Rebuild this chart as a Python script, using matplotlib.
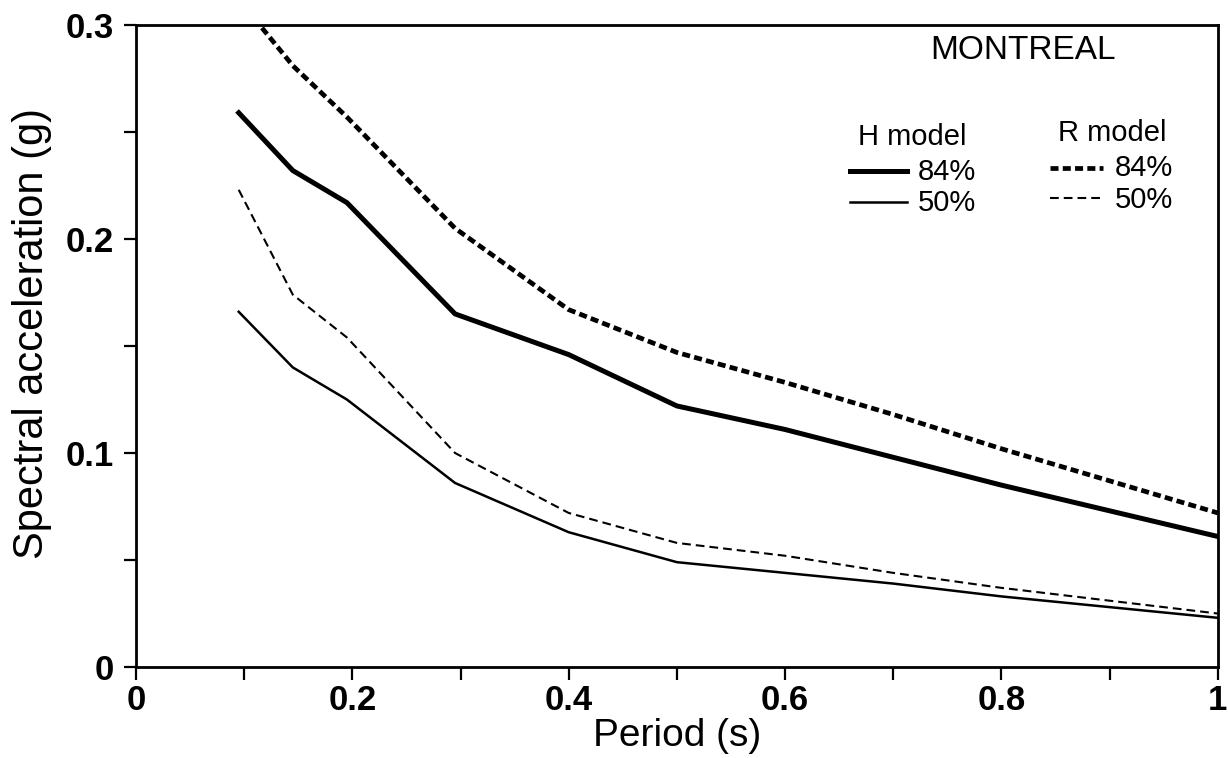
import matplotlib
matplotlib.use("Agg")
import matplotlib.pyplot as plt
from matplotlib.ticker import MultipleLocator, FixedLocator

matplotlib.rcParams["font.family"] = ["Liberation Sans", "DejaVu Sans"]

# Period (s)
period = [0.095, 0.145, 0.195, 0.295, 0.4, 0.5, 0.6, 0.7, 0.8, 0.9, 1.0]

# spectral acceleration (g)
h_84 = [0.259, 0.232, 0.217, 0.165, 0.146, 0.122, 0.111, 0.098, 0.085, 0.073, 0.061]
h_50 = [0.166, 0.140, 0.125, 0.086, 0.063, 0.049, 0.044, 0.039, 0.033, 0.028, 0.023]
r_84 = [0.312, 0.281, 0.257, 0.205, 0.167, 0.147, 0.133, 0.118, 0.102, 0.087, 0.072]
r_50 = [0.223, 0.174, 0.154, 0.100, 0.072, 0.058, 0.052, 0.044, 0.037, 0.031, 0.025]

x_ticks = [0, 0.2, 0.4, 0.6, 0.8, 1.0]
x_tick_labels = ["0", "0.2", "0.4", "0.6", "0.8", "1"]
y_ticks = [0, 0.1, 0.2, 0.3]
y_tick_labels = ["0", "0.1", "0.2", "0.3"]

# line styles
THICK_DASH = (0, (1.7, 0.9))
THIN_DASH = (0, (4.2, 2.4))

fig = plt.figure(figsize=(12.28, 7.58), dpi=100)
fig.patch.set_facecolor("white")
ax = fig.add_axes([0.1107, 0.120, 0.881, 0.847])

ax.plot(period, h_84, color="black", linewidth=3.6)
ax.plot(period, h_50, color="black", linewidth=1.8)
ax.plot(period, r_84, color="black", linewidth=3.4, linestyle=THICK_DASH)
ax.plot(period, r_50, color="black", linewidth=1.5, linestyle=THIN_DASH)

ax.set_xlim(0, 1)
ax.set_ylim(0, 0.3)

ax.xaxis.set_major_locator(FixedLocator(x_ticks))
ax.set_xticklabels(x_tick_labels)
ax.xaxis.set_minor_locator(MultipleLocator(0.1))
ax.yaxis.set_major_locator(FixedLocator(y_ticks))
ax.set_yticklabels(y_tick_labels)
ax.yaxis.set_minor_locator(MultipleLocator(0.05))

ax.tick_params(which="both", direction="out", length=9, width=1.6,
               top=False, right=False, color="black")
ax.tick_params(axis="both", which="major", labelsize=25)
ax.tick_params(axis="x", which="major", pad=3)
ax.tick_params(axis="y", which="major", pad=7)
for lab in ax.get_xticklabels() + ax.get_yticklabels():
    lab.set_fontweight("bold")

for side in ["left", "bottom", "top", "right"]:
    ax.spines[side].set_linewidth(2.0)
    ax.spines[side].set_color("black")

ax.set_xlabel("Period (s)", fontsize=28, labelpad=1)
ax.set_ylabel("Spectral acceleration (g)", fontsize=30)
ax.yaxis.set_label_coords(-0.078, 0.52)

# legend drawn by hand, like the printed figure
ax.text(0.820, 0.961, "MONTREAL", transform=ax.transAxes, ha="center",
        va="center", fontsize=24)
ax.text(0.718, 0.826, "H model", transform=ax.transAxes, ha="center",
        va="center", fontsize=21)
ax.text(0.902, 0.832, "R model", transform=ax.transAxes, ha="center",
        va="center", fontsize=21)

# H model keys
ax.plot([0.660, 0.713], [0.773, 0.773], transform=ax.transAxes,
        color="black", linewidth=3.6)
ax.text(0.723, 0.771, "84%", transform=ax.transAxes, ha="left",
        va="center", fontsize=21)
ax.plot([0.660, 0.713], [0.724, 0.724], transform=ax.transAxes,
        color="black", linewidth=1.8)
ax.text(0.723, 0.723, "50%", transform=ax.transAxes, ha="left",
        va="center", fontsize=21)

# R model keys
ax.plot([0.845, 0.894], [0.777, 0.777], transform=ax.transAxes,
        color="black", linewidth=3.4, linestyle=THICK_DASH)
ax.text(0.905, 0.777, "84%", transform=ax.transAxes, ha="left",
        va="center", fontsize=21)
ax.plot([0.845, 0.894], [0.730, 0.730], transform=ax.transAxes,
        color="black", linewidth=1.5, linestyle=THIN_DASH)
ax.text(0.905, 0.727, "50%", transform=ax.transAxes, ha="left",
        va="center", fontsize=21)

fig.savefig("out.png", dpi=100, facecolor="white")
